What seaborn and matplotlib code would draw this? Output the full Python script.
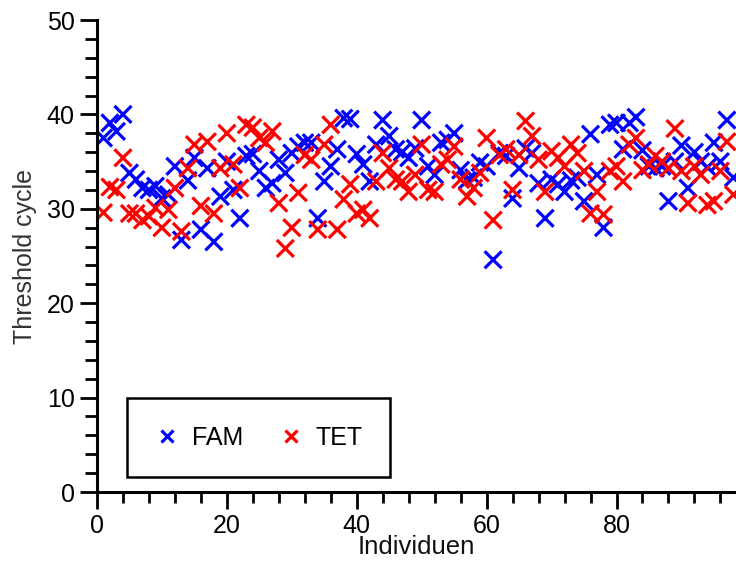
import numpy as np
import pandas as pd
import matplotlib
matplotlib.use("Agg")
import matplotlib.pyplot as plt
from matplotlib.ticker import MultipleLocator
import seaborn as sns

individuals = list(range(1, 99))
fam = [37.5, 39.1, 38.2, 40.0, 33.8, 33.1, 32.2, 32.0, 32.4, 31.1,
       31.5, 34.5, 26.7, 33.0, 35.4, 27.8, 34.3, 26.5, 31.3, 35.0,
       32.0, 29.0, 35.6, 35.8, 34.0, 32.2, 32.7, 35.2, 33.8, 35.9,
       36.6, 37.0, 37.0, 29.0, 32.9, 34.5, 36.3, 39.6, 39.5, 35.8,
       34.7, 32.9, 36.8, 39.4, 37.7, 36.3, 36.0, 35.4, 36.4, 39.4,
       34.5, 33.6, 37.0, 37.3, 38.0, 34.1, 33.0, 33.3, 34.9, 34.5,
       24.6, 35.9, 35.6, 31.1, 34.3, 36.4, 35.9, 32.7, 29.0, 33.1,
       32.6, 31.8, 33.0, 33.3, 30.8, 37.9, 33.6, 28.0, 38.9, 39.1,
       36.3, 39.1, 39.7, 36.2, 34.5, 34.3, 34.5, 30.8, 35.0, 36.7,
       32.2, 36.0, 35.0, 34.4, 37.0, 35.0, 39.4, 33.3]
tet = [29.6, 32.3, 32.0, 35.4, 29.5, 29.5, 28.8, 29.2, 30.1, 28.0,
       29.9, 32.2, 27.6, 34.3, 36.8, 30.3, 37.1, 29.5, 34.3, 38.0,
       34.7, 32.2, 38.9, 38.6, 37.5, 37.0, 38.2, 30.6, 25.8, 28.0,
       31.7, 35.7, 35.2, 27.8, 36.8, 38.9, 27.8, 31.0, 32.6, 29.5,
       29.9, 29.0, 32.9, 35.9, 34.3, 33.1, 32.9, 31.8, 33.6, 36.8,
       32.0, 31.8, 34.7, 35.2, 36.6, 33.1, 31.3, 32.2, 33.8, 37.5,
       28.8, 35.7, 36.3, 32.0, 35.7, 39.3, 37.7, 35.2, 31.8, 36.1,
       35.4, 34.5, 36.8, 35.9, 34.0, 29.5, 31.8, 29.4, 34.0, 34.5,
       32.9, 36.8, 37.5, 34.1, 34.7, 35.6, 35.0, 34.3, 38.5, 34.0,
       30.6, 34.5, 33.6, 30.4, 30.8, 34.0, 37.1, 31.5]
series_names = ["FAM", "TET"]
colors = ["#0000ff", "#ff0000"]

df = pd.DataFrame({
    "Individuen": individuals * 2,
    "Threshold cycle": fam + tet,
    "Dye": [series_names[0]] * len(fam) + [series_names[1]] * len(tet),
})

sns.set_style("ticks")
plt.rcParams["font.family"] = ["Liberation Sans", "DejaVu Sans"]
plt.rcParams["text.color"] = "black"
plt.rcParams["axes.labelcolor"] = "black"
plt.rcParams["xtick.color"] = "black"
plt.rcParams["ytick.color"] = "black"

fig = plt.figure(figsize=(7.36, 5.64), dpi=100)
ax = fig.add_axes([97 / 736, 72 / 564, 639 / 736, 472 / 564])

sns.scatterplot(data=df, x="Individuen", y="Threshold cycle", hue="Dye",
                palette=dict(zip(series_names, colors)), marker="x",
                s=150, linewidth=2.3, ax=ax, legend=True, zorder=3)

ax.set_xlim(0, 98.4)
ax.set_ylim(0, 50)
ax.xaxis.set_major_locator(MultipleLocator(20))
ax.xaxis.set_minor_locator(MultipleLocator(4))
ax.yaxis.set_major_locator(MultipleLocator(10))
ax.yaxis.set_minor_locator(MultipleLocator(2))

sns.despine(ax=ax)
for s in ["left", "bottom"]:
    ax.spines[s].set_linewidth(2.2)
    ax.spines[s].set_color("black")
ax.spines["left"].set_zorder(4)

ax.tick_params(axis="x", which="major", length=12, width=2, direction="out",
               labelsize=18, pad=4, colors="black")
ax.tick_params(axis="x", which="minor", length=8, width=2, direction="out", colors="black")
ax.tick_params(axis="y", which="major", length=12, width=2, direction="out",
               labelsize=18, pad=4, colors="black")
ax.tick_params(axis="y", which="minor", length=9, width=2, direction="out", colors="black")

ax.set_xlabel("Individuen", fontsize=18.5, labelpad=-2, color="#111111")
ax.set_ylabel("Threshold cycle", fontsize=18, labelpad=7, color="#333333")

handles, labels = ax.get_legend_handles_labels()
leg = ax.legend(handles, labels, loc="center", bbox_to_anchor=(0.253, 0.115),
                ncol=2, fontsize=18, frameon=True, fancybox=False,
                borderpad=1.1, handlelength=1.0, handletextpad=0.5,
                columnspacing=1.4, markerscale=0.75, borderaxespad=0)
frame = leg.get_frame()
frame.set_edgecolor("black")
frame.set_linewidth(1.8)
frame.set_facecolor("white")
frame.set_alpha(1)

fig.savefig("out.png", dpi=100)
